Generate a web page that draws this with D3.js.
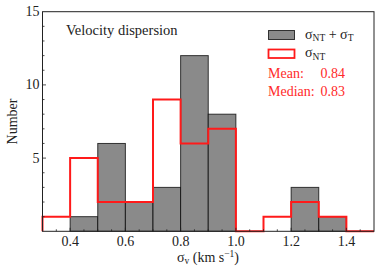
<!DOCTYPE html>
<html><head><meta charset="utf-8">
<script src="https://cdn.jsdelivr.net/npm/d3@7"></script>
<style>body{margin:0;background:#fff}svg{display:block}</style>
</head><body><svg id="c" width="382" height="275" font-family="'Liberation Serif', 'Times New Roman', Times, serif"></svg>
<script>
const binEdges = [0.3,0.4,0.5,0.6,0.7,0.8,0.9,1.0,1.1,1.2,1.3,1.4,1.5];
const totalCounts = [0,1,6,2,3,12,8,0,0,3,1,0];
const ntCounts = [1,5,2,2,9,6,7,0,1,2,1,0];
const xTicks = [0.4,0.6,0.8,1.0,1.2,1.4];
const yTicks = [0,5,10,15];
const statLines = [["Mean:","0.84"],["Median:","0.83"]];

const svg = d3.select("#c");
const L=42.5, R=374, T=11.7, B=231.3;
const x = d3.scaleLinear().domain([0.3,1.5]).range([L,R]);
const y = d3.scaleLinear().domain([0,15]).range([B,T]);
const FS=14;

// gray bars
svg.append("g").selectAll("rect").data(totalCounts.map((c,i)=>({c,x0:binEdges[i],x1:binEdges[i+1]})).filter(d=>d.c>0))
 .join("rect").attr("x",d=>x(d.x0)).attr("width",d=>x(d.x1)-x(d.x0))
 .attr("y",d=>y(d.c)).attr("height",d=>y(0)-y(d.c))
 .attr("fill","#8a8a8a").attr("stroke","#000").attr("stroke-opacity",0.75).attr("stroke-width",1);

// red step
const pts=[[binEdges[0],0]];
ntCounts.forEach((c,i)=>{pts.push([binEdges[i],c]);pts.push([binEdges[i+1],c]);});
pts.push([binEdges[binEdges.length-1],0]);
svg.append("path").attr("d",d3.line().x(d=>x(d[0])).y(d=>y(d[1]))(pts))
 .attr("fill","none").attr("stroke","#ff1a1a").attr("stroke-width",2);

// frame
svg.append("rect").attr("x",L).attr("y",T).attr("width",R-L).attr("height",B-T)
 .attr("fill","none").attr("stroke","#222").attr("stroke-width",1);

// x ticks
const xa=svg.append("g");
d3.range(0.35,1.5,0.05).forEach(v=>{
  const major = xTicks.some(t=>Math.abs(t-v)<1e-6);
  xa.append("line").attr("x1",x(v)).attr("x2",x(v)).attr("y1",B).attr("y2",B-(major?3.5:2)).attr("stroke","#222").attr("stroke-width",0.8);
});
xTicks.forEach(v=>xa.append("text").attr("x",x(v)).attr("y",B+14.3).attr("text-anchor","middle").attr("font-size",FS).attr("fill","#222").text(v.toFixed(1)));
// y ticks
const ya=svg.append("g");
d3.range(1,15,1).forEach(v=>{
  const major = v%5===0;
  ya.append("line").attr("x1",L).attr("x2",L+(major?3.5:2)).attr("y1",y(v)).attr("y2",y(v)).attr("stroke","#222").attr("stroke-width",0.8);
});
yTicks.filter(v=>v>0).forEach(v=>ya.append("text").attr("x",L-3).attr("y",y(v)+4.5).attr("text-anchor","end").attr("font-size",FS).attr("fill","#222").text(v));

// axis titles
svg.append("text").attr("transform",`translate(17,${(T+B)/2}) rotate(-90)`).attr("text-anchor","middle").attr("font-size",FS).attr("fill","#222").text("Number");
const xt=svg.append("text").attr("x",208).attr("y",261.5).attr("text-anchor","middle").attr("font-size",FS).attr("fill","#222");
xt.append("tspan").text("σ");
xt.append("tspan").attr("font-size",9.5).attr("dy",2.5).text("v");
xt.append("tspan").attr("dy",-2.5).text(" (km s");
xt.append("tspan").attr("font-size",9.5).attr("dy",-5).text("−1");
xt.append("tspan").attr("dy",5).text(")");

svg.append("text").attr("x",66).attr("y",35).attr("font-size",14.5).attr("fill","#222").text("Velocity dispersion");

// legend
svg.append("rect").attr("x",268.5).attr("y",30.5).attr("width",26).attr("height",9).attr("fill","#8a8a8a").attr("stroke","#000").attr("stroke-opacity",0.75);
svg.append("rect").attr("x",268.5).attr("y",49.5).attr("width",26).attr("height",8.5).attr("fill","#fff").attr("stroke","#ff1a1a").attr("stroke-width",1.8);
const l1=svg.append("text").attr("x",305).attr("y",38.5).attr("font-size",FS).attr("fill","#222");
l1.append("tspan").text("σ");
l1.append("tspan").attr("font-size",9.5).attr("dy",2.5).text("NT");
l1.append("tspan").attr("dy",-2.5).text(" + σ");
l1.append("tspan").attr("font-size",9.5).attr("dy",2.5).text("T");
const l2=svg.append("text").attr("x",305).attr("y",57).attr("font-size",FS).attr("fill","#222");
l2.append("tspan").text("σ");
l2.append("tspan").attr("font-size",9.5).attr("dy",2.5).text("NT");

statLines.forEach((s,i)=>{
  svg.append("text").attr("x",268).attr("y",77.8+i*18).attr("font-size",FS).attr("fill","#ff2a2a").text(s[0]);
  svg.append("text").attr("x",320.5).attr("y",77.8+i*18).attr("font-size",FS).attr("fill","#ff2a2a").text(s[1]);
});
</script></body></html>
